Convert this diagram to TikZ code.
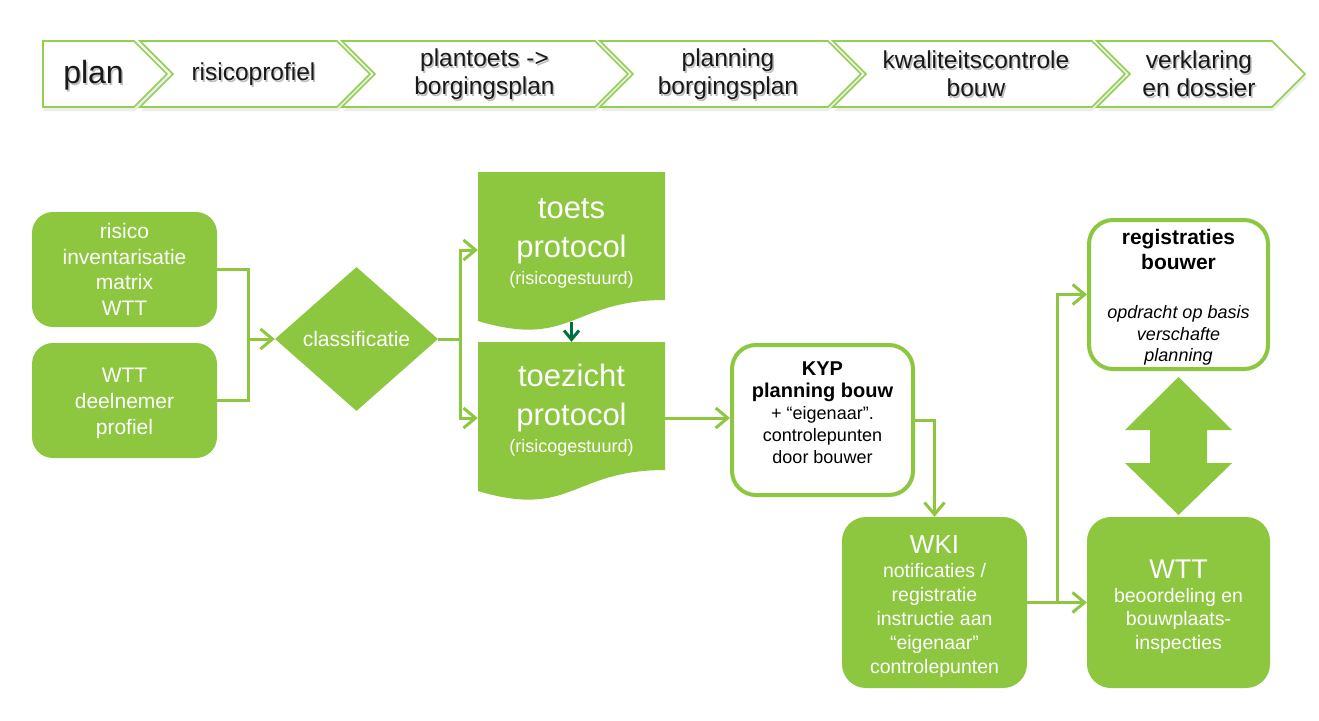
\documentclass[tikz,border=0pt]{standalone}
\usepackage{fontspec}
\setmainfont{Liberation Sans}
\usetikzlibrary{arrows.meta,shapes.geometric,calc}
\definecolor{gr}{RGB}{141,198,63}
\definecolor{chev}{RGB}{146,208,80}
\definecolor{dk}{RGB}{0,112,60}
\newcommand{\fs}[2]{\fontsize{#1}{#2}\selectfont}
\begin{document}
\begin{tikzpicture}[x=1pt,y=-1pt,
  chevshape/.style={draw=chev, line width=1.6pt, fill=white, line join=miter},
  chevshadow/.style={fill=black!7},
  htext/.style={align=center, inner sep=0, text=black!90},
  hshadow/.style={align=center, inner sep=0, text=black!25},
  gbox/.style={fill=gr, text=white, align=center, inner sep=0, rounded corners=21pt},
  wbox/.style={draw=gr, line width=4pt, fill=white, text=black, align=center, inner sep=0, rounded corners=24pt},
  btxt/.style={align=center, inner sep=0},
  doctxt/.style={text=white, align=center, inner sep=0, font=\fs{31}{39}},
  conn/.style={draw=gr, line width=3pt},
  arr/.style={-{Straight Barb[length=12pt,width=20pt]}},
  darr/.style={draw=dk, line width=3pt, -{Straight Barb[length=9pt,width=15pt]}}
]
\useasboundingbox (0,0) rectangle (1319,720);
\fill[white] (0,0) rectangle (1319,720);

% ---------- header chevrons ----------
\fill[chevshadow] (44,45) -- (135,45) -- (168,78) -- (135,111) -- (44,111) -- cycle;
\fill[chevshadow] (141,45) -- (338,45) -- (371,78) -- (338,111) -- (141,111) -- (174,78) -- cycle;
\fill[chevshadow] (343,45) -- (596,45) -- (629,78) -- (596,111) -- (343,111) -- (376,78) -- cycle;
\fill[chevshadow] (601,45) -- (829,45) -- (862,78) -- (829,111) -- (601,111) -- (634,78) -- cycle;
\fill[chevshadow] (834,45) -- (1093,45) -- (1126,78) -- (1093,111) -- (834,111) -- (867,78) -- cycle;
\fill[chevshadow] (1098,45) -- (1273,45) -- (1306,78) -- (1273,111) -- (1098,111) -- (1131,78) -- cycle;

\path[chevshape] (43,41) -- (134,41) -- (167,74) -- (134,107) -- (43,107) -- cycle;
\path[chevshape] (140,41) -- (337,41) -- (370,74) -- (337,107) -- (140,107) -- (173,74) -- cycle;
\path[chevshape] (342,41) -- (595,41) -- (628,74) -- (595,107) -- (342,107) -- (375,74) -- cycle;
\path[chevshape] (600,41) -- (828,41) -- (861,74) -- (828,107) -- (600,107) -- (633,74) -- cycle;
\path[chevshape] (833,41) -- (1092,41) -- (1125,74) -- (1092,107) -- (833,107) -- (866,74) -- cycle;
\path[chevshape] (1097,41) -- (1272,41) -- (1305,74) -- (1272,107) -- (1097,107) -- (1130,74) -- cycle;

\node[hshadow, font=\fs{32}{36}] (h1s) at (95,77) {plan};
\node[htext, font=\fs{32}{36}] (h1) at (93.5,75) {plan};
\node[hshadow, font=\fs{24.5}{28}] (h2s) at (255,76) {risicoprofiel};
\node[htext, font=\fs{24.5}{28}] (h2) at (253.5,74) {risicoprofiel};
\node[hshadow, font=\fs{24.5}{28}] (h3s) at (486,76) {plantoets ->\\borgingsplan};
\node[htext, font=\fs{24.5}{28}] (h3) at (484.5,74) {plantoets ->\\borgingsplan};
\node[hshadow, font=\fs{24.5}{28}] (h4s) at (729.5,76) {planning\\borgingsplan};
\node[htext, font=\fs{24.5}{28}] (h4) at (728,74) {planning\\borgingsplan};
\node[hshadow, font=\fs{24.5}{28}] (h5s) at (977.5,76) {kwaliteitscontrole\\bouw};
\node[htext, font=\fs{24.5}{28}] (h5) at (976,74) {kwaliteitscontrole\\bouw};
\node[hshadow, font=\fs{24.5}{28}] (h6s) at (1200.5,76) {verklaring\\en dossier};
\node[htext, font=\fs{24.5}{28}] (h6) at (1199,74) {verklaring\\en dossier};

% ---------- left inputs ----------
\node[gbox, minimum width=185, minimum height=115, font=\fs{21}{25.5}] (risk) at (124.5,269.5) {risico\\inventarisatie\\matrix\\WTT};
\node[gbox, minimum width=185, minimum height=115] (prof) at (124.5,400.5) {};
\node[btxt, text=white, font=\fs{21}{26}] (proftxt) at (124.5,403.5) {WTT\\deelnemer\\profiel};

\node[diamond, fill=gr, text=white, minimum width=163pt, minimum height=144pt, inner sep=0, font=\fs{21}{25}] (cls) at (356.5,339) {classificatie};

% ---------- documents ----------
\fill[gr] (478,172) -- (665,172) -- (665,300) .. controls (571.5,300) and (571.5,349) .. (478,321) -- cycle;
\fill[gr] (478,342) -- (665,342) -- (665,470) .. controls (571.5,470) and (571.5,519) .. (478,491) -- cycle;
\node[inner sep=0, minimum width=187, minimum height=156] (toetsdoc) at (571.5,250) {};
\node[inner sep=0, minimum width=187, minimum height=152] (toezdoc) at (571.5,418) {};
\node[doctxt] (toetstxt) at (571.5,243) {toets\\protocol\\[-12pt]{\fs{18}{20}(risicogestuurd)}};
\node[doctxt] (toeztxt) at (571.5,410) {toezicht\\protocol\\[-12pt]{\fs{18}{20}(risicogestuurd)}};

% ---------- right part ----------
\node[wbox, minimum width=181, minimum height=150] (kyp) at (822.5,420) {};
\node[btxt, font=\fs{18}{22}] (kyptxt) at (822.5,413)
  {{\fs{20}{22}\bfseries KYP}\\{\fs{20}{22}\bfseries planning bouw}\\+ “eigenaar”.\\controlepunten\\door bouwer};

\node[wbox, minimum width=179, minimum height=149] (reg) at (1178.5,294.5) {};
\node[btxt, font=\fs{18}{21.5}] (regtxt) at (1178.5,297.5)
  {{\fs{21}{25}\bfseries registraties}\\[3.5pt]{\fs{21}{25}\bfseries bouwer}\\[28pt]{\itshape opdracht op basis}\\{\itshape verschafte}\\{\itshape planning}};

\node[gbox, minimum width=185, minimum height=171, rounded corners=24pt] (wki) at (934.5,602.5) {};
\node[btxt, text=white, font=\fs{19.5}{24}] (wkitxt) at (934.5,606.5)
  {{\fs{26}{24}WKI}\\notificaties /\\registratie\\instructie aan\\“eigenaar”\\controlepunten};

\node[gbox, minimum width=183, minimum height=171, rounded corners=24pt] (wtt) at (1178.5,602.5) {};
\node[btxt, text=white, font=\fs{19.5}{23.5}] (wtttxt) at (1178.5,606.5)
  {{\fs{27}{24}WTT}\\beoordeling en\\bouwplaats-\\inspecties};

% double arrow
\coordinate (datop) at (1178.5,377);
\coordinate (dabot) at (1178.5,515);
\fill[gr] (datop) -- (1232,430) -- (1207,430) -- (1207,463) -- (1232,463) -- (dabot)
  -- (1125,463) -- (1150,463) -- (1150,430) -- (1125,430) -- cycle;

% ---------- connectors ----------
\coordinate (j1) at (248,339);
\coordinate (j2) at (460,339);
\coordinate (j3) at (1057,602.5);
\draw[conn] (risk.east) -| (j1);
\draw[conn] (prof.east) -| (j1);
\draw[conn,arr] (j1) -- (cls.west);
\draw[conn] (cls.east) -- (j2);
\draw[conn,arr] (j2) |- (toetsdoc.west);
\draw[conn,arr] (j2) |- (toezdoc.west);
\draw[darr] ([yshift=6pt]toetsdoc.south) -- (toezdoc.north);
\draw[conn,arr] (toezdoc.east) -- (kyp.west |- toezdoc.east);
\draw[conn,arr] (kyp.east) -| (wki.north);
\draw[conn,arr] (wki.east) -- (wtt.west);
\draw[conn,arr] (j3) |- (reg.west);
\end{tikzpicture}
\end{document}
